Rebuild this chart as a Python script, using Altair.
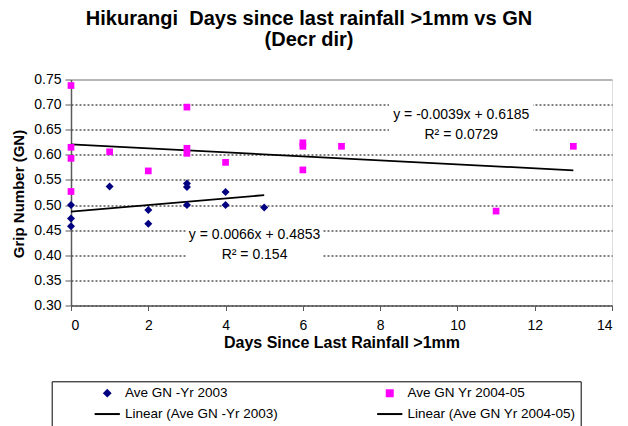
import altair as alt
import pandas as pd

# ---- data ----
days_2003 = [0, 0, 0, 1, 2, 2, 3, 3, 3, 4, 4, 5]
gn_2003 = [0.500, 0.473, 0.458, 0.537, 0.490, 0.463, 0.543, 0.536, 0.500, 0.526, 0.500, 0.495]

days_2004 = [0, 0, 0, 0, 1, 2, 3, 3, 3, 4, 6, 6, 6, 7, 11, 13]
gn_2004 = [0.738, 0.615, 0.593, 0.527, 0.606, 0.568, 0.695, 0.613, 0.603, 0.585,
           0.624, 0.617, 0.570, 0.617, 0.488, 0.617]

series_names = ["Ave GN -Yr 2003", "Ave GN Yr 2004-05"]
series_sizes = [64, 45]
legend_keys = ["Ave GN -Yr 2003", "Ave GN Yr 2004-05",
               "Linear (Ave GN -Yr 2003)", "Linear (Ave GN Yr 2004-05)"]
key_colors = ["#000080", "#FF00FF", "#000000", "#000000"]
LINE_SYMBOL = "M-4.2,0H4.2"
key_shapes = ["diamond", "square", LINE_SYMBOL, LINE_SYMBOL]

eq_text = ["y = 0.0066x + 0.4853", "R² = 0.154", "y = -0.0039x + 0.6185", "R² = 0.0729"]
eq_x = [4.75, 4.75, 10.1, 10.1]
eq_y = [0.441, 0.401, 0.679, 0.640]

box_x = [2.98, 8.23]
box_x2 = [6.52, 11.96]
box_y = [0.37, 0.62]
box_y2 = [0.48, 0.72]

x_ticks = [0, 2, 4, 6, 8, 10, 12, 14]
y_ticks = [0.30, 0.35, 0.40, 0.45, 0.50, 0.55, 0.60, 0.65, 0.70, 0.75]

title_lines = ["Hikurangi\u00a0 Days since last rainfall >1mm vs GN", "(Decr dir)"]

FONT = "Liberation Sans"

pts = pd.DataFrame({
    "x": days_2003 + days_2004,
    "y": gn_2003 + gn_2004,
    "series": [series_names[0]] * len(days_2003) + [series_names[1]] * len(days_2004),
})
eq_df = pd.DataFrame({"x": eq_x, "y": eq_y, "text": eq_text})
box_df = pd.DataFrame({"x": box_x, "x2": box_x2, "y": box_y, "y2": box_y2})

xscale = alt.Scale(domain=[0, 14], nice=False, zero=False)
yscale = alt.Scale(domain=[0.30, 0.75], nice=False, zero=False)

x_axis = alt.Axis(
    values=x_ticks, title="Days Since Last Rainfall >1mm", grid=False,
    tickSize=5, tickColor="#5a5a5a", domainColor="#5a5a5a", domainWidth=1.5,
    labelFont=FONT, labelFontSize=14, labelColor="black", labelPadding=8,
    titleFont=FONT, titleFontSize=16, titleFontWeight="bold", titleColor="black",
    titleY=37, titleBaseline="middle",
)
y_axis = alt.Axis(
    values=y_ticks, format=".2f", title="Grip Number (GN)",
    grid=True,
    gridColor={"condition": {"test": "datum.value >= 0.749", "value": "#808080"}, "value": "black"},
    gridDash={"condition": {"test": "datum.value >= 0.749", "value": []}, "value": [2, 2]},
    gridWidth=1,
    tickSize=6, tickColor="#5a5a5a", domainColor="#5a5a5a", domainWidth=1.5,
    labelFont=FONT, labelFontSize=14, labelColor="black", labelPadding=4,
    titleFont=FONT, titleFontSize=15, titleFontWeight="bold", titleColor="black",
    titleX=-53, titleY=114, titleAlign="center", titleBaseline="middle", titleAngle=-90,
)

X = alt.X("x:Q", scale=xscale, axis=x_axis)
Y = alt.Y("y:Q", scale=yscale, axis=y_axis)

PAD = "\u2002" * 4 + "\u2009"
legend = alt.Legend(
    title=None, orient="none", legendX=-19.3, legendY=301.8, columns=2, direction="horizontal",
    strokeColor="black", padding=5, symbolOffset=43.8, columnPadding=60.5, rowPadding=6,
    labelFont=FONT, labelFontSize=13.5, labelColor="black", labelLimit=0, labelOffset=11,
    labelExpr="indexof(datum.label, '2004') >= 0 ? datum.label + '" + PAD + "' : datum.label",
    symbolSize=36, symbolStrokeWidth=2,
)

color = alt.Color("key:N", scale=alt.Scale(domain=legend_keys, range=key_colors), legend=legend)
shape = alt.Shape("key:N", scale=alt.Scale(domain=legend_keys, range=key_shapes), legend=legend)
size = alt.Size("key:N", scale=alt.Scale(domain=series_names, range=series_sizes), legend=None)

boxes = alt.Chart(box_df).mark_rect(color="white").encode(
    x=X, x2="x2:Q", y=Y, y2="y2:Q"
)

trend = alt.Chart(pts).transform_regression(
    "x", "y", groupby=["series"]
).transform_calculate(
    key="'Linear (' + datum.series + ')'"
).mark_line(strokeWidth=1.8).encode(x=X, y=Y, color=color, detail="series:N")

points = alt.Chart(pts).transform_calculate(
    key="datum.series"
).mark_point(filled=True, opacity=1, strokeWidth=0).encode(
    x=X, y=Y, color=color, shape=shape, size=size
)

labels = alt.Chart(eq_df).mark_text(
    font=FONT, fontSize=14, color="black", align="center", baseline="middle"
).encode(x=X, y=Y, text="text:N")

chart = alt.layer(boxes, trend, points, labels).properties(
    width=541, height=226,
    autosize=alt.AutoSizeParams(type="none"),
    padding={"left": 63, "top": 71.5, "right": 8, "bottom": 120},
    title=alt.Title(
        text=title_lines, font=FONT, fontSize=20, fontWeight="bold", color="black",
        anchor="middle", frame="group", dx=-32.5, offset=22.5, lineHeight=21.5,
    ),
).configure_view(stroke="#808080", strokeWidth=1).configure(background="white")

chart.save("out.html", embed_options={"renderer": "svg", "actions": False})
